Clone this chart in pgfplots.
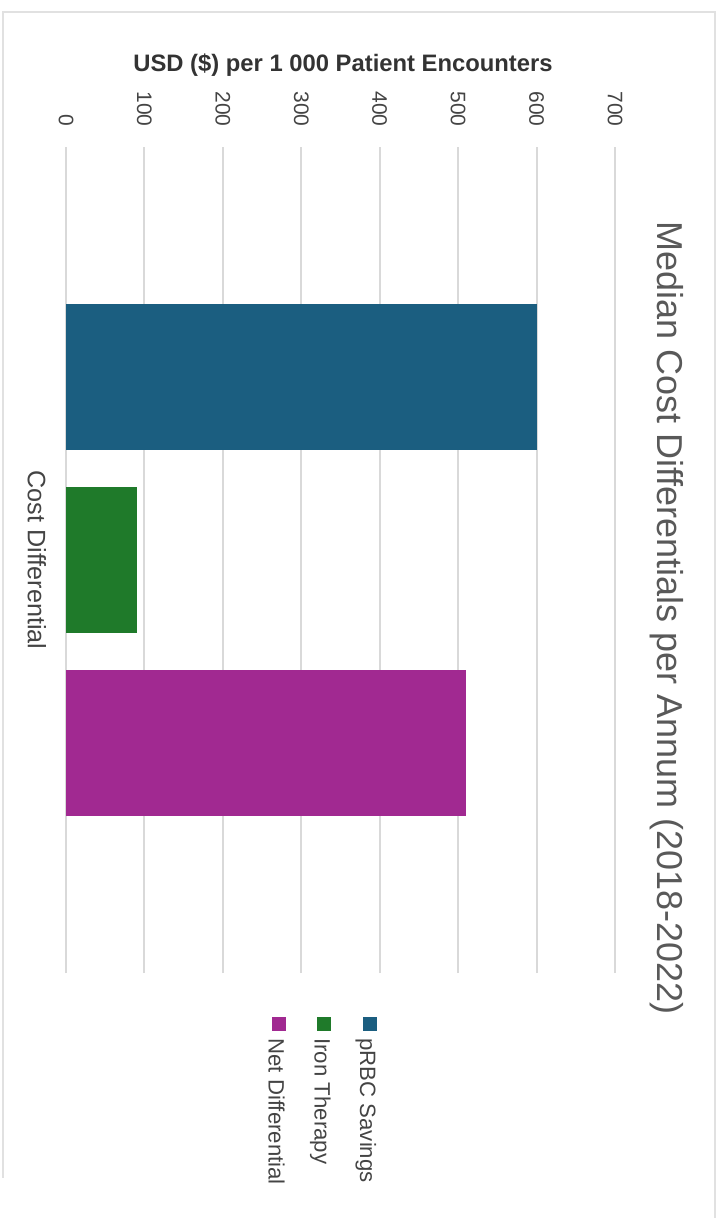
\documentclass[border=0pt]{standalone}
\usepackage{pgfplots}
\pgfplotsset{compat=1.18}
\usepackage{fontspec}
\setmainfont{Liberation Sans}
\definecolor{cblue}{RGB}{27,94,128}
\definecolor{cgreen}{RGB}{31,122,42}
\definecolor{cmag}{RGB}{161,41,145}
\definecolor{gridc}{RGB}{217,217,217}
\definecolor{txt}{RGB}{68,68,68}
\definecolor{ttl}{RGB}{89,89,89}
\definecolor{axlab}{RGB}{51,51,51}
\definecolor{framec}{RGB}{225,225,225}
\begin{document}
\begin{tikzpicture}
\path[use as bounding box] (0pt,0pt) rectangle (361pt,-609pt);
\draw[framec, line width=1pt] (1.5pt,-589pt) -- (1.5pt,-6pt) -- (357.5pt,-6pt) -- (357.5pt,-609pt);
\begin{axis}[
  at={(33pt,-73.5pt)}, anchor=north west,
  scale only axis, width=274.5pt, height=413pt,
  xbar, bar width=0.8, bar shift=0pt,
  xmin=0, xmax=700, ymin=-2.257, ymax=2.257,
  xtick={0,100,...,700}, ytick={0}, yticklabels={Cost Differential},
  xticklabel pos=upper,
  xmajorgrids, major grid style={draw=gridc, line width=1pt},
  axis line style={draw=none}, tick style={draw=none},
  /pgf/number format/assume math mode=true,
  xticklabel style={rotate=-90, anchor=east, inner sep=0pt, font=\fontsize{10.5}{12}\selectfont, text=txt},
  xticklabel shift=10pt,
  yticklabel style={rotate=-90, anchor=north, inner sep=0pt, font=\fontsize{12.6}{15}\selectfont, text=txt},
  yticklabel shift=5.5pt,
  clip=false,
]
\addplot[fill=cblue, draw=none] coordinates {(600,1)};
\addplot[fill=cgreen, draw=none] coordinates {(90,0)};
\addplot[fill=cmag, draw=none] coordinates {(510,-1)};
\node[rotate=-90, anchor=base, inner sep=0pt, font=\fontsize{18}{22}\selectfont, text=ttl] at (axis description cs:1.0783,0.4298) {Median Cost Differentials per Annum (2018-2022)};
\node[anchor=base, inner sep=0pt, font=\bfseries\fontsize{11.9}{14}\selectfont, text=axlab] at (axis description cs:0.5046,1.0908) {USD (\$) per 1 000 Patient Encounters};
\end{axis}
\fill[cblue] (181.5pt,-508.5pt) rectangle (188.5pt,-515.5pt);
\node[rotate=-90, anchor=base west, inner sep=0pt, font=\fontsize{11.1}{13}\selectfont, text=txt] at (180pt,-519pt) {pRBC Savings};
\fill[cgreen] (158.5pt,-508.5pt) rectangle (165.5pt,-515.5pt);
\node[rotate=-90, anchor=base west, inner sep=0pt, font=\fontsize{11.1}{13}\selectfont, text=txt] at (157.25pt,-519pt) {Iron Therapy};
\fill[cmag] (135.75pt,-508.5pt) rectangle (142.75pt,-515.5pt);
\node[rotate=-90, anchor=base west, inner sep=0pt, font=\fontsize{11.1}{13}\selectfont, text=txt] at (134.25pt,-519pt) {Net Differential};
\end{tikzpicture}
\end{document}
